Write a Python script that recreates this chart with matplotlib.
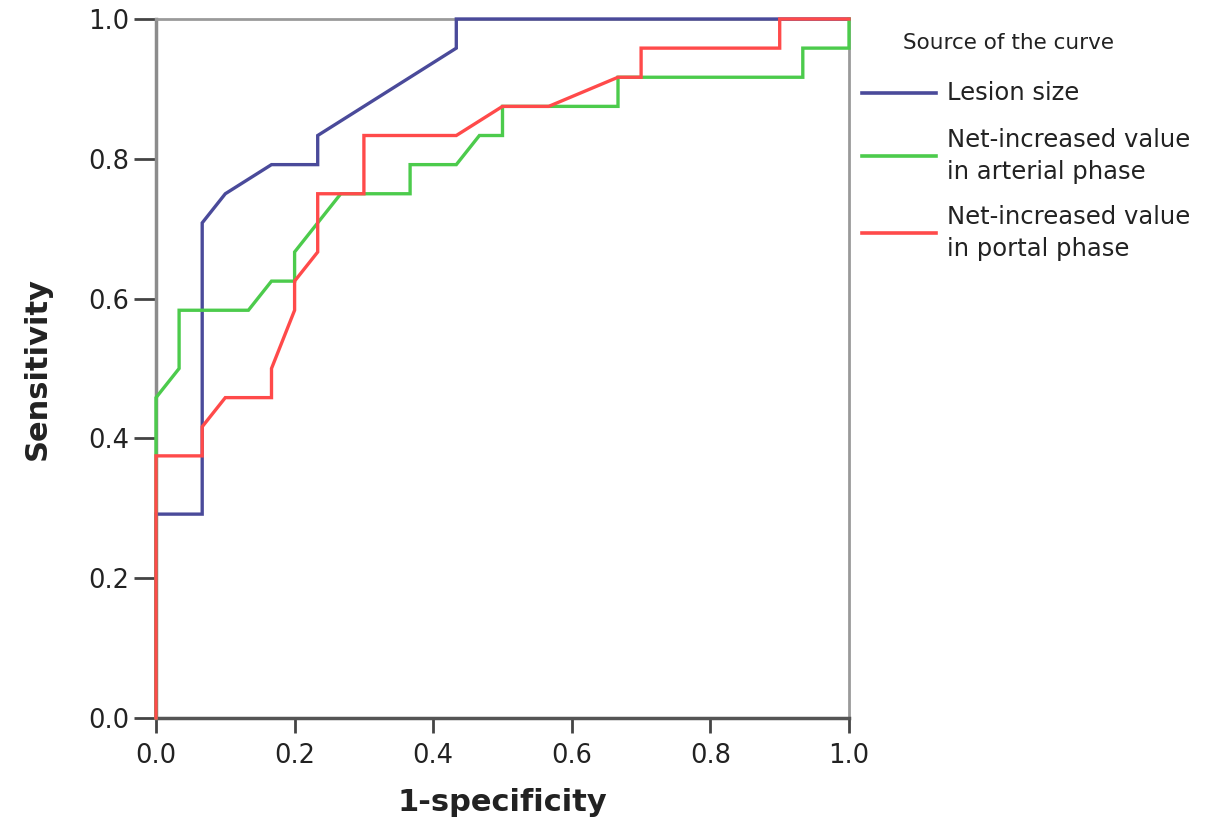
import matplotlib
matplotlib.use('Agg')
import matplotlib.pyplot as plt
from matplotlib.lines import Line2D

# ROC curve points (30 negatives, 24 positives)
lesion_fpr = [0, 0, 2/30, 2/30, 3/30, 5/30, 7/30, 7/30, 13/30, 13/30, 1]
lesion_tpr = [0, 7/24, 7/24, 17/24, 18/24, 19/24, 19/24, 20/24, 23/24, 1, 1]

arterial_fpr = [0, 0, 1/30, 1/30, 4/30, 5/30, 6/30, 6/30, 8/30, 11/30, 11/30,
                13/30, 14/30, 15/30, 15/30, 20/30, 20/30, 28/30, 28/30, 1, 1]
arterial_tpr = [0, 11/24, 12/24, 14/24, 14/24, 15/24, 15/24, 16/24, 18/24, 18/24, 19/24,
                19/24, 20/24, 20/24, 21/24, 21/24, 22/24, 22/24, 23/24, 23/24, 1]

portal_fpr = [0, 0, 2/30, 2/30, 3/30, 5/30, 5/30, 6/30, 6/30, 7/30, 7/30, 9/30, 9/30,
              13/30, 15/30, 17/30, 20/30, 21/30, 21/30, 27/30, 27/30, 1]
portal_tpr = [0, 9/24, 9/24, 10/24, 11/24, 11/24, 12/24, 14/24, 15/24, 16/24, 18/24, 18/24, 20/24,
              20/24, 21/24, 21/24, 22/24, 22/24, 23/24, 23/24, 1, 1]

curve_names = ['Lesion size',
               'Net-increased value\nin arterial phase',
               'Net-increased value\nin portal phase']
curve_colors = ['#4a4a9a', '#4ccb4c', '#ff4a4a']
ticks = [0.0, 0.2, 0.4, 0.6, 0.8, 1.0]

W, H = 1205, 839
fig = plt.figure(figsize=(W / 100, H / 100), dpi=100)
ax = fig.add_axes([156 / W, 1 - 718 / H, 693 / W, 699 / H])

curves = [(lesion_fpr, lesion_tpr), (arterial_fpr, arterial_tpr), (portal_fpr, portal_tpr)]
for (x, y), clr in zip(curves, curve_colors):
    ax.plot(x, y, color=clr, lw=2.4, zorder=3, clip_on=False, solid_joinstyle='miter')

ax.set_xlim(0, 1)
ax.set_ylim(0, 1)
ax.set_xticks(ticks)
ax.set_yticks(ticks)
ax.set_xticklabels(['%.1f' % t for t in ticks])
ax.set_yticklabels(['%.1f' % t for t in ticks])
ax.tick_params(axis='both', direction='out', width=2, color='#444444',
               labelsize=18.5, labelcolor='#222222')
ax.tick_params(axis='x', length=11, pad=7)
ax.tick_params(axis='y', length=16, pad=3)

ax.spines['left'].set_color('#8c8c8c')
ax.spines['left'].set_linewidth(2.5)
ax.spines['bottom'].set_color('#555555')
ax.spines['bottom'].set_linewidth(2.5)
for s in ['top', 'right']:
    ax.spines[s].set_color('#9a9a9a')
    ax.spines[s].set_linewidth(2)

ax.set_xlabel('1-specificity', fontsize=22, fontweight='bold', color='#222222')
ax.set_ylabel('Sensitivity', fontsize=22, fontweight='bold', color='#222222')
ax.xaxis.set_label_coords(0.5, (718 - 788) / 699)
ax.yaxis.set_label_coords((52 - 156) / 693, 0.5)

# legend, placed by hand like the SPSS output
fig.text(903 / W, 1 - 43 / H, 'Source of the curve', fontsize=15.5,
         color='#222222', ha='left', va='center')
legend_y = [93, 156, 233]
for name, clr, yc in zip(curve_names, curve_colors, legend_y):
    fig.add_artist(Line2D([862 / W, 936 / W], [1 - yc / H, 1 - yc / H],
                          color=clr, lw=2.6, transform=fig.transFigure))
    lines = name.split('\n')
    if len(lines) == 1:
        offs = [0]
    else:
        offs = [-16, 16]
    for txt, off in zip(lines, offs):
        fig.text(947 / W, 1 - (yc + off) / H, txt, fontsize=17.5,
                 color='#222222', ha='left', va='center')

fig.savefig('out.png', dpi=100)
